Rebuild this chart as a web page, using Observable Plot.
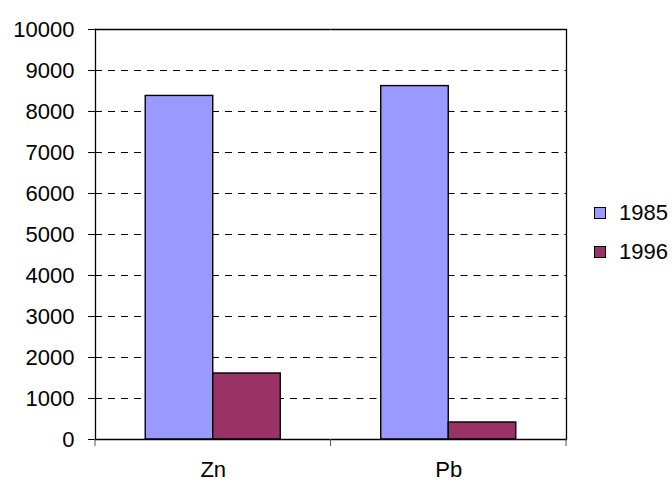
<!DOCTYPE html>
<html><head><meta charset="utf-8">
<script src="https://cdn.jsdelivr.net/npm/d3@7"></script>
<script src="https://cdn.jsdelivr.net/npm/@observablehq/plot@0.6"></script>
<style>
body{margin:0;background:#fff;font-family:Arial,"Liberation Sans",sans-serif}
#wrap{position:relative;width:672px;height:482px}
.legend{position:absolute;left:594px;top:202px;font-size:22px;color:#000}
.row{display:flex;align-items:center;height:22px;margin-bottom:17px}
.sw{width:10px;height:10px;border:1px solid #000;margin-right:13px}
</style></head><body><div id="wrap"></div>
<script>
const metals = ["Zn", "Pb"];
const years = ["1985", "1996"];
const values1985 = [8380, 8620];
const values1996 = [1610, 415];
const yTicks = [0, 1000, 2000, 3000, 4000, 5000, 6000, 7000, 8000, 9000, 10000];
const colors = ["#9999FF", "#993366"];

const data = metals.flatMap((m, i) => [
  {metal: m, year: years[0], value: values1985[i]},
  {metal: m, year: years[1], value: values1996[i]}
]);

const chart = Plot.plot({
  width: 672, height: 482,
  marginLeft: 95, marginRight: 106, marginTop: 29, marginBottom: 43,
  style: {fontFamily: "Arial, 'Liberation Sans', sans-serif", fontSize: "22px", color: "#000", background: "transparent", overflow: "visible"},
  fx: {domain: metals, padding: 0, label: null, round: false},
  x: {domain: years, paddingInner: 0, paddingOuter: 0.744, axis: null, round: false},
  y: {domain: [0, 10000], label: null},
  color: {domain: years, range: colors},
  marks: [
    Plot.gridY(yTicks.slice(1, -1), {stroke: "#000", strokeOpacity: 1, strokeDasharray: "7,6"}),
    Plot.barY(data, {fx: "metal", x: "year", y: "value", fill: "year", stroke: "#000", strokeWidth: 1.4}),
    Plot.ruleY([0, 10000], {stroke: "#000", strokeWidth: 1.3}),
    Plot.frame({anchor: "left", facetAnchor: "left", stroke: "#000", strokeWidth: 1.3}),
    Plot.frame({anchor: "right", facetAnchor: "right", stroke: "#000", strokeWidth: 1.3}),
    Plot.axisY(yTicks, {tickSize: 13, dx: 6, tickFormat: () => "", stroke: "#000"}),
    Plot.axisY(yTicks, {tickSize: 0, tickPadding: 21, tickFormat: d => String(d)}),
    Plot.axisFx({anchor: "bottom", tickSize: 0, tickPadding: 22, label: null})
  ]
});

const fx = chart.scale("fx"), ys = chart.scale("y");
const bounds = [...metals.map(m => fx.apply(m)), fx.apply(metals[metals.length - 1]) + fx.bandwidth];
const y0 = ys.apply(0);
d3.select(chart).append("g").selectAll("line").data(bounds).join("line")
  .attr("x1", d => d).attr("x2", d => d).attr("y1", y0).attr("y2", y0 + 7)
  .attr("stroke", "#555").attr("stroke-width", 1);

const wrap = document.getElementById("wrap");
wrap.appendChild(chart);
const legend = document.createElement("div");
legend.className = "legend";
years.forEach((yr, i) => {
  const row = document.createElement("div");
  row.className = "row";
  const sw = document.createElement("div");
  sw.className = "sw";
  sw.style.background = colors[i];
  const t = document.createElement("span");
  t.textContent = yr;
  row.appendChild(sw); row.appendChild(t);
  legend.appendChild(row);
});
wrap.appendChild(legend);
</script></body></html>
